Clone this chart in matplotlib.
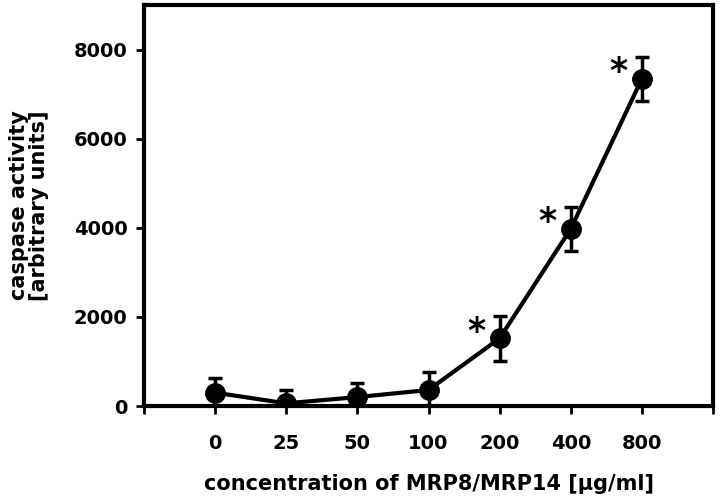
import matplotlib
matplotlib.use("Agg")
import matplotlib.pyplot as plt

# concentrations (categorical) and caspase activity
conc_labels = ["0", "25", "50", "100", "200", "400", "800"]
activity = [300, 60, 200, 360, 1520, 3980, 7350]
err = [320, 310, 320, 400, 500, 500, 500]
significant = [False, False, False, False, True, True, True]

plt.rcParams['font.family'] = ['DejaVu Sans']
plt.rcParams['font.weight'] = 'bold'

fig = plt.figure(figsize=(7.2, 5.03), dpi=100)
ax = fig.add_axes([144 / 720, 1 - 406 / 503, (713 - 144) / 720, (406 - 5) / 503])

x = list(range(len(conc_labels)))
ax.errorbar(x, activity, yerr=err, color='black', lw=3, marker='o', ms=14,
            elinewidth=2.5, capsize=5, capthick=2.5, zorder=3)

# significance stars left of the points
for xi, yi, s in zip(x, activity, significant):
    if s:
        ax.text(xi - 0.33, yi + 150, '*', fontsize=25, fontweight='bold',
                ha='center', va='center')

ax.set_xlim(-1, 7)
ax.set_ylim(0, 9010)
ax.set_xticks(range(-1, 8))
ax.set_xticklabels([''] + conc_labels + [''])
ax.set_yticks([0, 2000, 4000, 6000, 8000])

for sp in ax.spines.values():
    sp.set_linewidth(3)
ax.tick_params(direction='out', width=2, length=6, labelsize=14, pad=6)
for lab in ax.get_xticklabels() + ax.get_yticklabels():
    lab.set_fontweight('bold')
ax.tick_params(axis='x', pad=14)

ax.set_xlabel('concentration of MRP8/MRP14 [µg/ml]', fontsize=15,
              fontweight='bold', labelpad=15)
ax.set_ylabel('caspase activity\n[arbitrary units]', fontsize=15,
              fontweight='bold', labelpad=18, linespacing=0.95)

fig.savefig('out.png', dpi=100)
